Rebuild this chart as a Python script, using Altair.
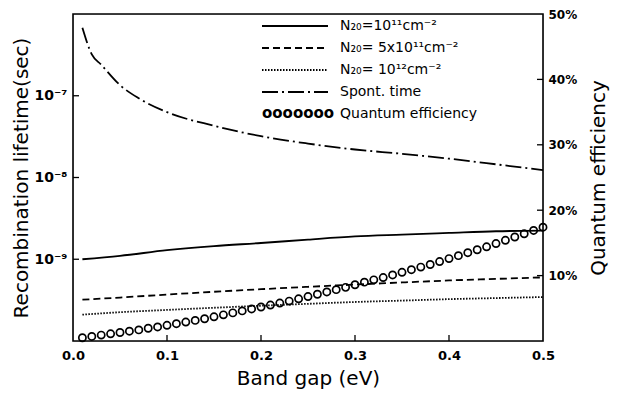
import altair as alt
import pandas as pd

# ---------------- data ----------------
band_gap_lines = [0.01, 0.05, 0.10, 0.15, 0.20, 0.25, 0.30, 0.35, 0.40, 0.45, 0.50]
tau_n1e11 = [1.0e-9, 1.1e-9, 1.29e-9, 1.45e-9, 1.58e-9, 1.74e-9, 1.9e-9, 2.0e-9, 2.1e-9, 2.2e-9, 2.24e-9]
tau_n5e11 = [3.2e-10, 3.4e-10, 3.7e-10, 4.0e-10, 4.3e-10, 4.6e-10, 4.9e-10, 5.2e-10, 5.5e-10, 5.75e-10, 6.0e-10]
tau_n1e12 = [2.1e-10, 2.25e-10, 2.4e-10, 2.55e-10, 2.7e-10, 2.85e-10, 3.0e-10, 3.12e-10, 3.25e-10, 3.35e-10, 3.45e-10]

band_gap_spont = [0.01, 0.02, 0.03, 0.05, 0.07, 0.10, 0.15, 0.20, 0.25, 0.30, 0.35, 0.40, 0.45, 0.50]
tau_spont = [6.8e-7, 3.2e-7, 2.4e-7, 1.35e-7, 9.3e-8, 6.3e-8, 4.3e-8, 3.2e-8, 2.6e-8, 2.2e-8,
             1.95e-8, 1.7e-8, 1.45e-8, 1.23e-8]

band_gap_qe = [0.01, 0.02, 0.03, 0.04, 0.05, 0.06, 0.07, 0.08, 0.09, 0.10,
               0.11, 0.12, 0.13, 0.14, 0.15, 0.16, 0.17, 0.18, 0.19, 0.20,
               0.21, 0.22, 0.23, 0.24, 0.25, 0.26, 0.27, 0.28, 0.29, 0.30,
               0.31, 0.32, 0.33, 0.34, 0.35, 0.36, 0.37, 0.38, 0.39, 0.40,
               0.41, 0.42, 0.43, 0.44, 0.45, 0.46, 0.47, 0.48, 0.49, 0.50]
quantum_eff = [0.5, 0.7, 0.9, 1.1, 1.3, 1.5, 1.7, 1.95, 2.15, 2.4,
               2.65, 2.9, 3.15, 3.4, 3.7, 4.0, 4.3, 4.6, 4.9, 5.2,
               5.5, 5.8, 6.1, 6.45, 6.8, 7.15, 7.5, 7.85, 8.2, 8.6,
               9.0, 9.35, 9.7, 10.1, 10.5, 10.9, 11.3, 11.7, 12.15, 12.6,
               13.05, 13.5, 13.95, 14.4, 14.9, 15.4, 15.9, 16.4, 16.9, 17.4]

x_ticks = [0.0, 0.1, 0.2, 0.3, 0.4, 0.5]
x_inner_ticks = [0.1, 0.2, 0.3, 0.4]
left_ticks = [1e-9, 1e-8, 1e-7]
right_ticks = [10, 20, 30, 40, 50]
right_inner_ticks = [10, 20, 30, 40]

legend_labels = ["N\u2082\u2080=10\u00b9\u00b9cm\u207b\u00b2",
                 "N\u2082\u2080= 5x10\u00b9\u00b9cm\u207b\u00b2",
                 "N\u2082\u2080= 10\u00b9\u00b2cm\u207b\u00b2",
                 "Spont. time",
                 "Quantum efficiency"]

# ---------------- layout / style ----------------
W, H = 470, 327
FONT = "DejaVu Sans"
INK = "black"

x_scale = alt.Scale(domain=[0, 0.5], nice=False, zero=False, padding=0)
y_left = alt.Scale(type="log", domain=[1e-10, 1e-6], nice=False, padding=0)
y_right = alt.Scale(domain=[0, 50], nice=False, zero=False, padding=0)

x_axis = alt.Axis(values=x_ticks, format=".1f", title="Band gap (eV)", tickSize=0,
                  domain=False, grid=False, labelPadding=8, titlePadding=6, labelFlush=False,
                  labelFontSize=13, labelFontWeight="bold", titleFontSize=20,
                  titleFontWeight="normal", labelFont=FONT, titleFont=FONT,
                  labelColor=INK, titleColor=INK)
y_left_axis = alt.Axis(values=left_ticks, title="Recombination lifetime(sec)",
                       labelExpr="datum.value < 5e-9 ? '10\u207b\u2079' : datum.value < 5e-8 ? '10\u207b\u2078' : '10\u207b\u2077'",
                       tickSize=0, domain=False, grid=False, labelPadding=6, titlePadding=2,
                       labelFlush=False,
                       labelFontSize=14, labelFontWeight="bold", titleFontSize=20,
                       titleFontWeight="normal", labelFont=FONT, titleFont=FONT,
                       labelColor=INK, titleColor=INK)
y_right_axis = alt.Axis(values=right_ticks, orient="right", title="Quantum efficiency",
                        labelExpr="datum.value + '%'", tickSize=0, domain=False, grid=False,
                        labelPadding=5, titlePadding=12, titleAngle=270, titleBaseline="top",
                        labelFlush=False,
                        labelFontSize=12, labelFontWeight="bold", titleFontSize=20,
                        titleFontWeight="normal", labelFont=FONT, titleFont=FONT,
                        labelColor=INK, titleColor=INK)


def curve(xs, ys, dash=None):
    df = pd.DataFrame({"x": xs, "tau": ys})
    kw = dict(color=INK, strokeWidth=1.8, interpolate="monotone")
    if dash is not None:
        kw["strokeDash"] = dash
    return alt.Chart(df).mark_line(**kw).encode(
        x=alt.X("x:Q", scale=x_scale, axis=x_axis),
        y=alt.Y("tau:Q", scale=y_left, axis=y_left_axis),
    )


line_a = curve(band_gap_lines, tau_n1e11)
line_b = curve(band_gap_lines, tau_n5e11, [7, 4])
line_c = curve(band_gap_lines, tau_n1e12, [1.5, 1.5])
line_d = curve(band_gap_spont, tau_spont, [16, 4, 2, 4])

xt = alt.Chart(pd.DataFrame({"x": x_inner_ticks})).mark_rule(color=INK, strokeWidth=1.3).encode(
    x=alt.X("x:Q", scale=x_scale, axis=x_axis), y=alt.value(H), y2=alt.value(H - 6))
lt = alt.Chart(pd.DataFrame({"tau": left_ticks})).mark_rule(color=INK, strokeWidth=1.3).encode(
    y=alt.Y("tau:Q", scale=y_left, axis=y_left_axis), x=alt.value(0), x2=alt.value(6))

left_group = alt.layer(line_a, line_b, line_c, line_d, xt, lt)

qe_df = pd.DataFrame({"x": band_gap_qe, "qe": quantum_eff})
circles = alt.Chart(qe_df).mark_point(shape="circle", filled=False, size=52, strokeWidth=1.7,
                                      color=INK, opacity=1).encode(
    x=alt.X("x:Q", scale=x_scale, axis=x_axis),
    y=alt.Y("qe:Q", scale=y_right, axis=y_right_axis),
)
rt = alt.Chart(pd.DataFrame({"qe": right_inner_ticks})).mark_rule(color=INK, strokeWidth=1.3).encode(
    y=alt.Y("qe:Q", scale=y_right, axis=y_right_axis), x=alt.value(W), x2=alt.value(W - 6))

right_group = alt.layer(circles, rt)

# ---------------- frame and legend (drawn inside the frame) ----------------
one = alt.Data(values=[{}])
frame = alt.Chart(one).mark_rect(fill=None, fillOpacity=0, stroke=INK, strokeWidth=1.6).encode(
    x=alt.value(0), x2=alt.value(W), y=alt.value(0), y2=alt.value(H))

LX0, LX1, TX = 189, 255, 267
ROWS = [12, 34, 56, 78, 100]
legend_layers = []
for ry, dash in zip(ROWS[:4], [None, [7, 4], [1.5, 1.5], [16, 4, 2, 4]]):
    kw = dict(color=INK, strokeWidth=1.8)
    if dash is not None:
        kw["strokeDash"] = dash
    legend_layers.append(alt.Chart(one).mark_rule(**kw).encode(
        x=alt.value(LX0), x2=alt.value(LX1), y=alt.value(ry)))
legend_layers.append(alt.Chart(one).mark_text(
    text="ooooooo", font=FONT, fontSize=15, fontWeight="bold", color=INK,
    align="left", baseline="middle").encode(x=alt.value(LX0), y=alt.value(ROWS[4] - 1)))
for ry, lab in zip(ROWS, legend_labels):
    legend_layers.append(alt.Chart(one).mark_text(
        text=lab, font=FONT, fontSize=14, color=INK, align="left", baseline="middle").encode(
        x=alt.value(TX), y=alt.value(ry)))

chart = alt.layer(left_group, right_group, frame, *legend_layers).resolve_scale(
    y="independent"
).properties(
    width=W, height=H,
    autosize=alt.AutoSizeParams(type="none"),
    padding={"left": 65, "top": 6, "right": 68, "bottom": 50},
).configure_view(stroke=None).configure(background="white")

chart.save("out.html", embed_options={"renderer": "svg", "actions": False})
